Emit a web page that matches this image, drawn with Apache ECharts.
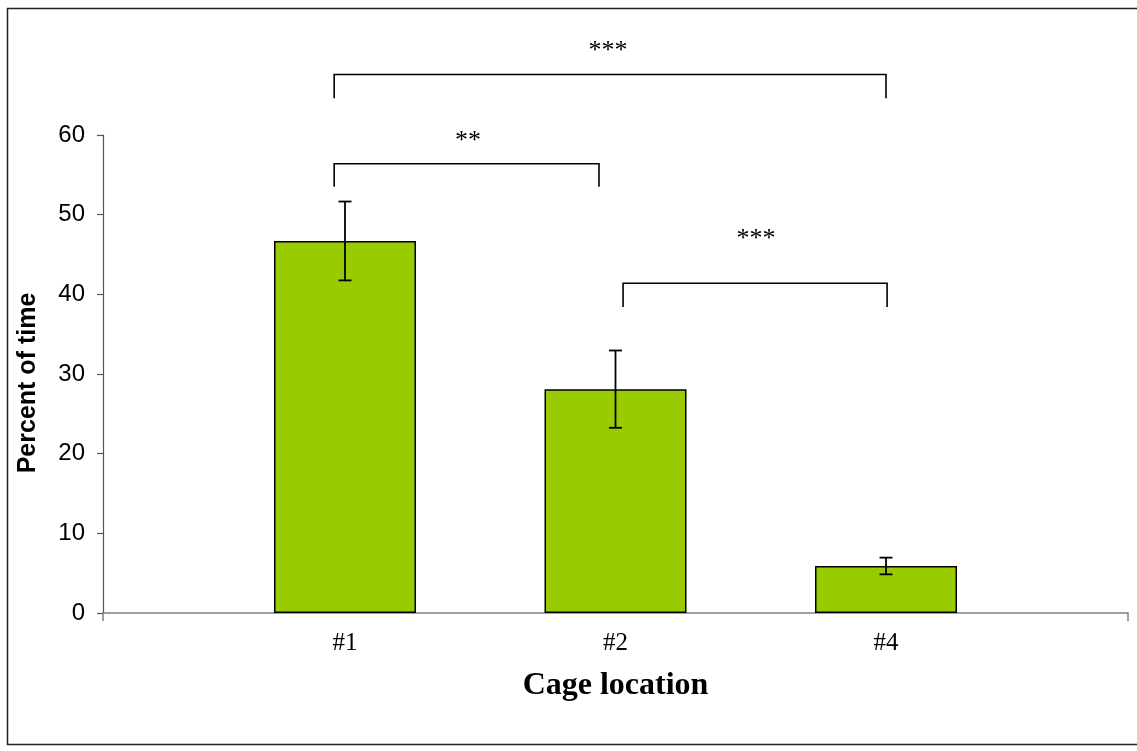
<!DOCTYPE html>
<html><head><meta charset="utf-8">
<script src="https://cdn.jsdelivr.net/npm/echarts@6/dist/echarts.min.js"></script>
<style>html,body{margin:0;padding:0;background:#fff}#c{width:1137px;height:751px}</style>
</head><body><div id="c"></div>
<script>
// ---- data ----
const categories = ['#1', '#2', '#4'];
const percentTime = [46.7, 28.1, 5.9];
const errorSE = [4.95, 4.85, 1.05];
const yTicks = [0, 10, 20, 30, 40, 50, 60];
// significance brackets (category-index positions, y in data units)
const bracketStart = [-0.04, -0.04, 1.028];
const bracketEnd = [2.0, 0.939, 2.004];
const bracketLineY = [67.6, 56.4, 41.4];
const bracketLegY = [64.6, 53.5, 38.4];
const bracketLabel = ['***', '**', '***'];
const bracketLabelX = [0.972, 0.455, 1.519];
const bracketLabelY = [71.0, 59.7, 47.4];

const xPad = 0.8946;
const xMin = -xPad, xMax = categories.length - 1 + xPad;

const barData = percentTime.map((v, i) => [i, v]);
const errData = percentTime.map((v, i) => [i, v - errorSE[i], v + errorSE[i]]);
const brData = bracketStart.map((s, i) => [s, bracketEnd[i], bracketLineY[i], bracketLegY[i], bracketLabelX[i], bracketLabelY[i], i]);

const chart = echarts.init(document.getElementById('c'));
chart.setOption({
  animation: false,
  backgroundColor: '#fff',
  grid: { left: 103, right: 9, top: 135, bottom: 138, containLabel: false },
  xAxis: {
    type: 'value', min: xMin, max: xMax,
    splitLine: { show: false },
    axisLine: { show: true, onZero: false, lineStyle: { color: '#808080', width: 1.5 } },
    axisTick: { show: true, customValues: [xMin, xMax], length: 8, lineStyle: { color: '#808080', width: 1.5 } },
    axisLabel: {
      customValues: categories.map((c, i) => i),
      formatter: v => categories[Math.round(v)],
      fontFamily: 'Liberation Serif', fontSize: 25, color: '#000', margin: 18
    },
    name: 'Cage location', nameLocation: 'middle', nameGap: 57,
    nameTextStyle: { fontFamily: 'Liberation Serif', fontWeight: 'bold', fontSize: 32, color: '#000' }
  },
  yAxis: {
    type: 'value', min: yTicks[0], max: yTicks[yTicks.length - 1], interval: 10,
    splitLine: { show: false },
    axisLine: { show: true, onZero: false, lineStyle: { color: '#555', width: 1.2 } },
    axisTick: { show: true, length: 6, lineStyle: { color: '#555', width: 1.2 } },
    axisLabel: { fontFamily: 'Liberation Sans', fontSize: 24, color: '#000', margin: 18 }
  },
  graphic: [
    { type: 'rect', shape: { x: 7.5, y: 8.5, width: 1140, height: 736 }, style: { fill: 'none', stroke: '#222', lineWidth: 1.5 }, z: 100 },
    { type: 'text', x: 28, y: 383, rotation: Math.PI / 2,
      style: { text: 'Percent of time', font: 'bold 25px "Liberation Sans"', fill: '#000', align: 'center', verticalAlign: 'middle' } }
  ],
  series: [
    {
      type: 'bar', data: barData, barWidth: 142,
      itemStyle: { color: '#99CC00', borderColor: '#000', borderWidth: 1.5 }
    },
    {
      type: 'custom', data: errData, z: 5,
      renderItem: (params, api) => {
        const x = api.value(0);
        const lo = api.coord([x, api.value(1)]);
        const hi = api.coord([x, api.value(2)]);
        const w = 6.5;
        const st = { stroke: '#000', lineWidth: 1.8 };
        return { type: 'group', children: [
          { type: 'line', shape: { x1: lo[0], y1: lo[1], x2: hi[0], y2: hi[1] }, style: st },
          { type: 'line', shape: { x1: lo[0] - w, y1: lo[1], x2: lo[0] + w, y2: lo[1] }, style: st },
          { type: 'line', shape: { x1: hi[0] - w, y1: hi[1], x2: hi[0] + w, y2: hi[1] }, style: st }
        ]};
      }
    },
    {
      type: 'custom', data: brData, clip: false, z: 6,
      renderItem: (params, api) => {
        const a = api.coord([api.value(0), api.value(2)]);
        const b = api.coord([api.value(1), api.value(2)]);
        const legA = api.coord([api.value(0), api.value(3)]);
        const lab = api.coord([api.value(4), api.value(5)]);
        const st = { stroke: '#000', lineWidth: 1.6, fill: 'none' };
        return { type: 'group', children: [
          { type: 'polyline', shape: { points: [[a[0], legA[1]], [a[0], a[1]], [b[0], b[1]], [b[0], legA[1]]] }, style: st },
          { type: 'text', x: lab[0], y: lab[1] + 4,
            style: { text: bracketLabel[api.value(6)], font: '26px "Liberation Serif"', fill: '#000', align: 'center', verticalAlign: 'middle' } }
        ]};
      }
    }
  ]
});
</script></body></html>
